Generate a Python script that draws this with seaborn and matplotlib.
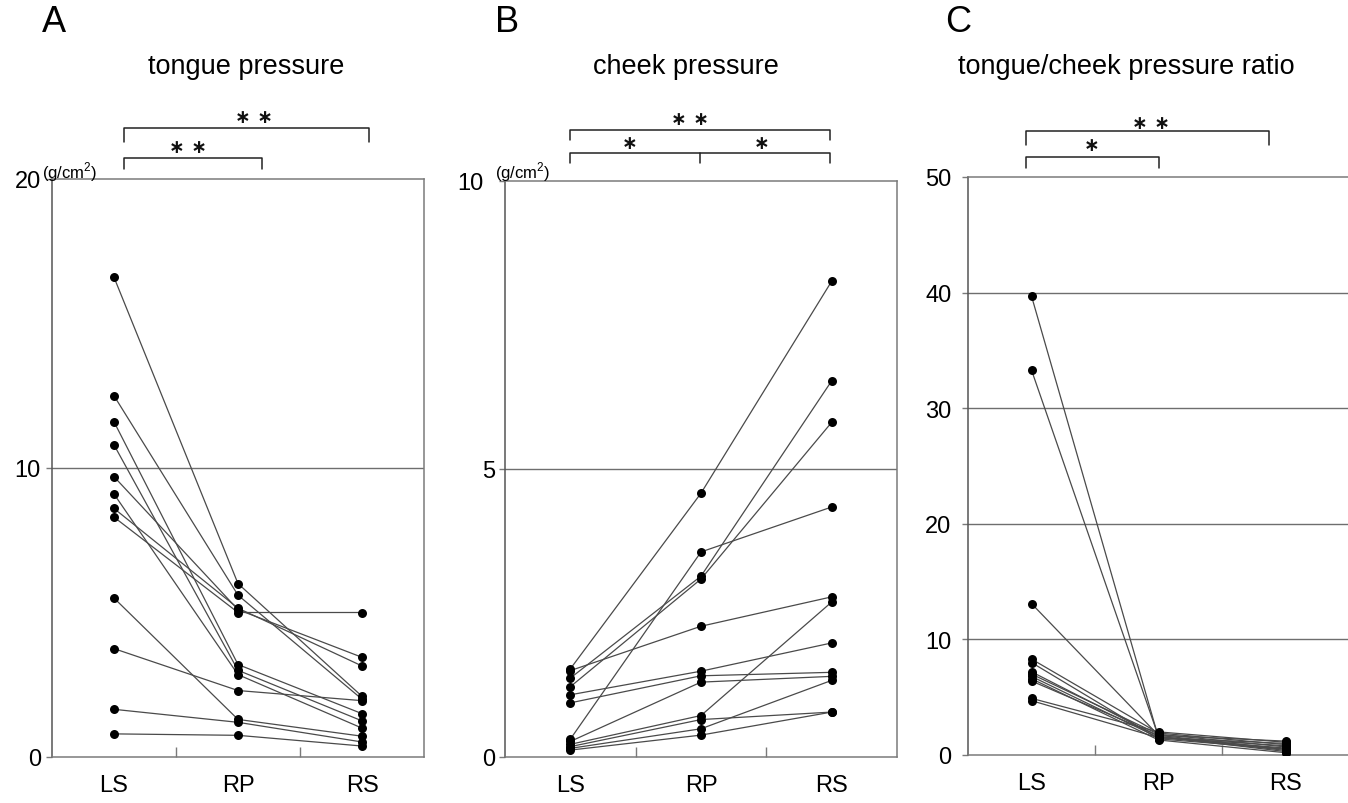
import numpy as np
import pandas as pd
import matplotlib
matplotlib.use("Agg")
import matplotlib.pyplot as plt
import matplotlib.transforms as mtransforms
import seaborn as sns

# ---------------- data ----------------
conditions = ["LS", "RP", "RS"]

tongue_LS = [16.6, 12.5, 11.6, 10.8, 9.7, 9.1, 8.6, 8.3, 5.5, 3.75, 1.65, 0.8]
tongue_RP = [6.0, 5.6, 3.2, 3.0, 5.1, 2.85, 5.15, 5.0, 1.3, 2.3, 1.2, 0.75]
tongue_RS = [2.1, 2.0, 1.5, 1.25, 3.45, 1.0, 3.15, 5.0, 0.72, 1.95, 0.52, 0.38]

cheek_LS = [1.53, 1.50, 1.37, 1.22, 1.08, 0.94, 0.31, 0.27, 0.22, 0.18, 0.15, 0.12]
cheek_RP = [4.58, 2.27, 3.14, 3.09, 1.49, 1.41, 3.56, 1.30, 0.72, 0.65, 0.49, 0.38]
cheek_RS = [8.26, 2.78, 6.53, 5.81, 1.98, 1.47, 4.34, 1.40, 2.69, 0.78, 1.33, 0.78]

ratio_LS = [39.7, 33.3, 13.1, 8.3, 8.0, 7.2, 7.0, 6.8, 6.6, 6.4, 4.9, 4.7]
ratio_RP = [1.5, 1.6, 1.7, 1.9, 1.4, 1.6, 1.8, 1.5, 1.3, 1.7, 2.0, 1.5]
ratio_RS = [0.6, 0.3, 1.2, 0.9, 0.5, 0.4, 0.7, 1.0, 0.2, 0.5, 1.1, 0.8]

titles = ["tongue pressure", "cheek pressure", "tongue/cheek pressure ratio"]
panel_letters = ["A", "B", "C"]
y_ticks = [[0, 10, 20], [0, 5, 10], [0, 10, 20, 30, 40, 50]]
grid_lines = [[10], [5], [10, 20, 30, 40]]
unit_label = "(g/cm$^2$)"


def long_frame(ls, rp, rs):
    rows = []
    for i, (a, b, c) in enumerate(zip(ls, rp, rs)):
        for cond, v in zip(conditions, (a, b, c)):
            rows.append({"subject": i, "condition": cond, "value": v})
    return pd.DataFrame(rows)


frames = [long_frame(tongue_LS, tongue_RP, tongue_RS),
          long_frame(cheek_LS, cheek_RP, cheek_RS),
          long_frame(ratio_LS, ratio_RP, ratio_RS)]

# ---------------- style ----------------
sns.set_theme(style="white")
plt.rcParams["font.family"] = ["Liberation Sans", "DejaVu Sans"]
plt.rcParams["mathtext.fontset"] = "custom"
plt.rcParams["mathtext.rm"] = "Liberation Sans"
plt.rcParams["text.color"] = "black"
plt.rcParams["xtick.color"] = "black"
plt.rcParams["ytick.color"] = "black"

W, H = 1348, 804
fig = plt.figure(figsize=(W / 100, H / 100), dpi=100)

# axes boxes in pixels: (left, right, top, bottom)
boxes = [(52, 424, 180, 758), (505, 897, 182, 758), (968, 1349, 178, 756)]
ypads = [4, 3, 8]
top_label_shift = [0, -12, 0]
title_cx = [246, 686, 1126]
letter_x = [42, 495, 945]

# brackets: (x0, x1, y_bar, y_leg, mids) in data-x / axes-fraction-y
brackets = [
    [(0.08, 2.06, 1.088, 1.064, []), (0.08, 1.19, 1.036, 1.017, [])],
    [(0.0, 1.99, 1.089, 1.071, []), (0.0, 1.99, 1.049, 1.031, [0.99])],
    [(-0.04, 1.87, 1.079, 1.055, []), (-0.04, 1.0, 1.034, 1.016, [])],
]
stars = [
    [(1.13, 1.108, "∗ ∗"), (0.60, 1.057, "∗ ∗")],
    [(0.915, 1.108, "∗ ∗"), (0.456, 1.066, "∗"), (1.466, 1.066, "∗")],
    [(0.94, 1.094, "∗ ∗"), (0.476, 1.056, "∗")],
]

spine_col = "#7a7a7a"
for k, df in enumerate(frames):
    l, r, t, b = boxes[k]
    ax = fig.add_axes([l / W, (H - b) / H, (r - l) / W, (b - t) / H])
    ymax = y_ticks[k][-1]
    for g in grid_lines[k]:
        ax.axhline(g, color="#6e6e6e", lw=1.0, zorder=1)
    sns.lineplot(data=df, x="condition", y="value", units="subject",
                 estimator=None, color="#4a4a4a", lw=0.9, ax=ax,
                 sort=False, legend=False, zorder=2)
    sns.scatterplot(data=df, x="condition", y="value", color="black",
                    s=42, edgecolor="black", linewidth=0, ax=ax,
                    legend=False, zorder=3)
    ax.set_xlim(-0.5, 2.5)
    ax.set_ylim(0, ymax)
    ax.set_xlabel("")
    ax.set_ylabel("")
    ax.set_xticks([0, 1, 2])
    ax.set_xticklabels(conditions)
    ax.set_xticks([0.5, 1.5], minor=True)
    ax.tick_params(axis="x", which="major", length=0, pad=12, labelsize=17)
    ax.tick_params(axis="x", which="minor", bottom=True, direction="in",
                   length=7, width=1, color=spine_col)
    ax.set_yticks(y_ticks[k])
    ax.tick_params(axis="y", which="major", left=True, direction="out",
                   length=4, width=1, color=spine_col, pad=ypads[k], labelsize=17)
    if top_label_shift[k]:
        lab = ax.get_yticklabels()[-1]
        lab.set_transform(lab.get_transform() + mtransforms.ScaledTranslation(
            top_label_shift[k] / 100, 0, fig.dpi_scale_trans))
    for s in ax.spines.values():
        s.set_color(spine_col)
        s.set_linewidth(1.1)
    ax.spines["left"].set_color("#555555")

    trans = mtransforms.blended_transform_factory(ax.transData, ax.transAxes)
    for (x0, x1, yb, yl, mids) in brackets[k]:
        ax.plot([x0, x0, x1, x1], [yl, yb, yb, yl], color="#222222", lw=1.1,
                transform=trans, clip_on=False)
        for m in mids:
            ax.plot([m, m], [yb, yl], color="#222222", lw=1.1,
                    transform=trans, clip_on=False)
    for (xs, ys, txt) in stars[k]:
        ax.text(xs, ys, txt, transform=trans, ha="center", va="center",
                fontsize=13.5, fontweight="bold", family="DejaVu Sans", color="#111111")

    # titles and panel letters
    fig.text(title_cx[k] / W, 1 - 67 / H, titles[k], ha="center", va="center",
             fontsize=19.5)
    fig.text(letter_x[k] / W, 1 - 23 / H, panel_letters[k],
             ha="left", va="center", fontsize=26)
    if k < 2:
        fig.text((l - 10) / W, 1 - 172 / H, unit_label, ha="left", va="center",
                 fontsize=12)

fig.savefig("out.png", dpi=100, facecolor="white")
